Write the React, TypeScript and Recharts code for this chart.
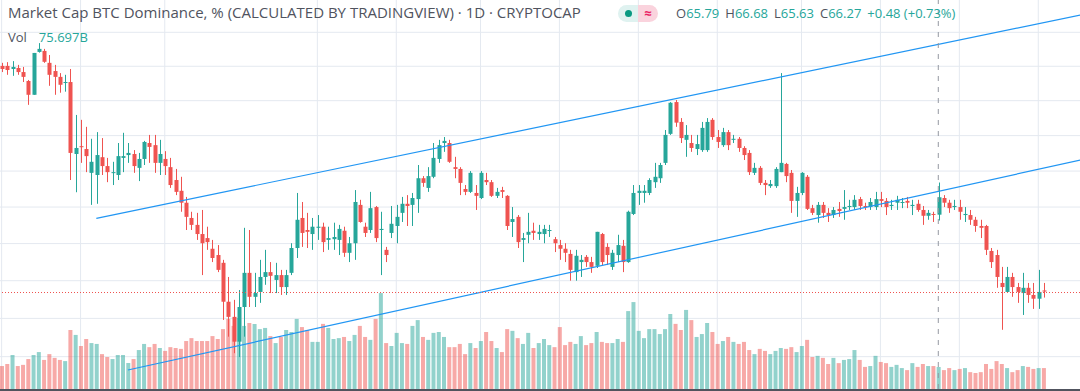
import React from "react";
import { ComposedChart, Bar, XAxis, YAxis, CartesianGrid, ReferenceLine, Cell } from "recharts";

// Daily BTC dominance candles (%)
const opens = [
  70.01, 70.01, 69.92, 69.95, 69.83, 69.57, 69.17, 70.42, 70.45, 70.10,
  69.86, 69.69, 69.52, 69.54, 67.48, 67.70, 67.62, 66.95, 66.89, 67.39,
  67.14, 66.95, 66.89, 67.37, 67.45, 67.48, 67.09, 67.34, 67.79, 67.73,
  67.23, 67.34, 67.11, 66.75, 66.45, 66.12, 65.70, 65.51, 65.26, 65.15,
  64.86, 64.69, 64.48, 63.44, 63.04, 62.39, 63.30, 64.21, 63.57, 63.70,
  64.10, 64.23, 64.02, 64.15, 63.83, 64.21, 64.88, 65.70, 65.37, 65.26,
  65.43, 65.46, 65.10, 65.12, 65.10, 65.35, 64.75, 65.01, 66.06, 65.46,
  65.37, 66.00, 65.37, 64.83, 65.29, 65.48, 65.84, 66.09, 66.06, 66.22,
  66.80, 66.53, 66.84, 67.34, 67.79, 67.79, 67.11, 67.06, 66.50, 66.42,
  66.39, 66.25, 66.75, 66.69, 66.31, 66.47, 66.31, 65.59, 65.73, 65.10,
  65.24, 65.35, 65.26, 65.26, 65.35, 65.12, 64.96, 64.86, 64.72, 64.23,
  64.50, 64.64, 64.50, 64.40, 65.26, 64.91, 64.37, 64.69, 64.94, 64.50,
  65.81, 66.39, 66.39, 66.39, 66.69, 66.80, 67.23, 68.05, 68.96, 68.39,
  67.88, 67.79, 67.62, 67.59, 67.59, 68.45, 67.96, 67.73, 68.10, 67.88,
  67.91, 67.65, 67.51, 66.95, 67.09, 66.67, 66.58, 66.58, 66.97, 67.20,
  66.95, 66.17, 66.39, 66.84, 65.97, 65.78, 66.06, 65.84, 65.78, 65.95,
  65.95, 66.00, 66.00, 66.22, 66.03, 66.00, 66.00, 66.22, 66.17, 66.03,
  66.12, 66.12, 66.17, 66.03, 66.09, 65.92, 65.76, 65.81, 65.79, 66.25,
  66.12, 66.00, 66.00, 65.78, 65.78, 65.65, 65.48, 65.48, 64.80, 64.69,
  63.94, 63.70, 64.10, 63.83, 63.67, 63.81, 63.62, 63.52, 63.74,
];
const highs = [
  70.10, 70.12, 70.15, 70.04, 69.98, 69.60, 70.39, 70.68, 70.51, 70.33,
  70.04, 69.80, 69.75, 69.92, 68.59, 68.45, 68.25, 67.91, 68.10, 67.93,
  67.37, 67.26, 67.79, 68.08, 67.79, 67.59, 67.51, 67.85, 68.02, 68.02,
  67.88, 67.56, 67.37, 67.06, 66.84, 66.28, 65.87, 65.84, 65.92, 65.46,
  65.10, 64.96, 64.56, 64.10, 63.49, 63.75, 65.43, 65.37, 64.21, 64.56,
  64.83, 64.50, 64.48, 64.29, 64.29, 65.01, 66.39, 66.14, 65.84, 65.70,
  65.78, 65.57, 65.46, 65.57, 65.51, 65.46, 65.18, 66.47, 66.20, 65.57,
  66.42, 66.03, 65.87, 64.91, 66.03, 66.06, 66.28, 66.33, 66.39, 67.17,
  66.86, 67.11, 67.79, 67.88, 67.96, 67.88, 67.40, 67.11, 66.61, 67.00,
  66.61, 67.00, 66.95, 66.75, 66.53, 66.56, 66.33, 66.00, 65.78, 65.29,
  65.84, 65.57, 65.51, 65.51, 65.51, 65.18, 65.10, 65.01, 64.83, 64.83,
  64.69, 64.69, 64.64, 65.32, 65.29, 65.01, 64.83, 65.24, 65.10, 65.90,
  66.61, 66.61, 66.61, 66.80, 67.23, 67.23, 68.16, 68.96, 69.02, 68.50,
  68.30, 68.02, 68.02, 68.39, 68.50, 68.50, 68.16, 68.22, 68.16, 68.02,
  67.96, 67.70, 67.59, 67.23, 67.14, 66.75, 66.75, 67.11, 69.80, 67.23,
  67.03, 66.56, 66.97, 66.89, 66.06, 66.14, 66.14, 65.97, 66.00, 66.14,
  66.47, 66.20, 66.33, 66.28, 66.12, 66.25, 66.42, 66.42, 66.25, 66.20,
  66.31, 66.25, 66.28, 66.20, 66.20, 66.03, 65.92, 65.87, 66.68, 66.33,
  66.20, 66.20, 66.20, 66.00, 65.92, 65.73, 65.65, 65.51, 64.88, 64.83,
  64.37, 64.37, 64.21, 63.94, 64.21, 63.94, 63.94, 64.29, 63.94,
];
const lows = [
  69.83, 69.75, 69.72, 69.75, 69.54, 68.88, 69.17, 70.40, 70.10, 69.43,
  69.17, 69.23, 69.26, 66.75, 66.41, 67.23, 66.97, 66.06, 66.09, 66.89,
  66.69, 66.61, 66.75, 66.97, 67.23, 66.95, 66.72, 67.17, 67.23, 66.95,
  66.89, 66.89, 66.53, 66.33, 65.87, 65.37, 65.37, 65.10, 64.15, 64.83,
  64.50, 64.23, 62.96, 62.52, 62.09, 61.99, 62.52, 63.30, 63.30, 63.41,
  63.89, 63.67, 63.67, 63.62, 63.62, 64.15, 64.61, 64.91, 64.88, 64.83,
  65.10, 64.77, 64.83, 64.83, 64.69, 64.64, 64.50, 64.56, 65.57, 65.18,
  65.29, 65.04, 64.15, 64.50, 65.15, 65.01, 65.59, 65.48, 65.48, 65.84,
  66.56, 66.42, 66.80, 67.23, 67.54, 67.23, 66.80, 66.33, 66.33, 66.39,
  65.92, 66.22, 66.61, 66.28, 66.25, 66.25, 65.37, 65.18, 64.88, 64.50,
  65.01, 65.10, 65.10, 65.01, 65.18, 64.77, 64.56, 64.50, 64.00, 64.00,
  64.10, 64.37, 64.21, 64.34, 64.42, 64.42, 64.29, 64.50, 64.23, 64.48,
  65.78, 66.06, 66.12, 66.33, 66.53, 66.67, 67.17, 68.02, 68.25, 67.79,
  67.40, 67.54, 67.45, 67.54, 67.54, 67.88, 67.65, 67.68, 67.59, 67.79,
  67.54, 67.31, 66.89, 66.89, 66.61, 66.33, 66.53, 66.53, 66.97, 66.69,
  65.84, 65.73, 66.33, 65.92, 65.78, 65.57, 65.70, 65.59, 65.70, 65.73,
  65.65, 65.92, 65.92, 65.92, 65.92, 65.92, 65.92, 66.00, 65.78, 65.92,
  65.92, 65.97, 65.97, 65.78, 65.87, 65.51, 65.65, 65.59, 65.63, 66.00,
  65.84, 65.92, 65.65, 65.59, 65.51, 65.32, 65.15, 64.69, 64.34, 63.81,
  62.70, 63.70, 63.57, 63.41, 63.09, 63.41, 63.25, 63.25, 63.55,
];
const closes = [
  69.92, 69.89, 69.98, 69.83, 69.69, 69.17, 70.39, 70.51, 70.13, 69.75,
  69.69, 69.46, 69.54, 67.51, 67.65, 67.68, 67.42, 67.26, 67.45, 67.14,
  66.97, 66.97, 67.42, 67.42, 67.51, 67.14, 67.34, 67.82, 67.68, 67.23,
  67.48, 67.14, 66.61, 66.42, 66.12, 65.73, 65.51, 65.26, 65.01, 65.04,
  64.61, 64.29, 63.44, 63.04, 62.39, 63.30, 64.21, 63.57, 63.67, 64.10,
  64.23, 64.13, 64.15, 63.83, 64.15, 64.88, 65.65, 65.29, 65.32, 65.46,
  65.46, 65.04, 65.15, 65.18, 65.40, 64.75, 65.01, 66.14, 65.59, 65.29,
  65.97, 65.15, 65.40, 64.69, 65.54, 65.73, 66.09, 66.03, 66.25, 66.80,
  66.67, 66.86, 67.37, 67.73, 67.85, 67.26, 67.06, 66.67, 66.42, 66.95,
  66.31, 66.95, 66.69, 66.31, 66.42, 66.42, 65.48, 65.67, 65.04, 65.15,
  65.32, 65.29, 65.32, 65.40, 65.37, 65.01, 64.86, 64.75, 64.29, 64.67,
  64.56, 64.50, 64.37, 65.32, 64.50, 64.69, 64.75, 64.96, 64.50, 65.87,
  66.39, 66.45, 66.45, 66.75, 66.84, 67.17, 68.02, 68.94, 68.37, 67.93,
  68.02, 67.65, 67.76, 68.22, 68.39, 67.96, 67.82, 68.10, 67.73, 67.91,
  67.65, 67.45, 66.97, 67.09, 66.67, 66.61, 66.64, 67.06, 67.23, 66.86,
  66.17, 66.39, 66.95, 65.95, 65.84, 66.06, 65.84, 65.78, 65.92, 65.89,
  66.00, 66.03, 66.20, 66.03, 66.00, 66.14, 66.22, 66.17, 66.00, 66.06,
  66.20, 66.14, 66.12, 66.06, 65.92, 65.76, 65.84, 65.79, 66.27, 66.12,
  65.97, 66.03, 65.87, 65.81, 65.65, 65.48, 65.43, 64.83, 64.50, 64.10,
  63.83, 64.10, 63.83, 63.70, 63.81, 63.62, 63.52, 63.70, 63.71,
];
// Daily volume, billions
const volumes = [
  79, 86, 117, 79, 83, 103, 117, 127, 100, 120,
  107, 100, 96, 203, 186, 148, 172, 158, 155, 120,
  110, 103, 117, 117, 89, 103, 134, 155, 144, 155,
  141, 131, 144, 141, 138, 165, 175, 165, 165, 165,
  182, 172, 206, 241, 217, 244, 217, 227, 224, 206,
  210, 182, 158, 179, 203, 196, 241, 213, 203, 162,
  162, 224, 210, 172, 175, 179, 165, 186, 217, 179,
  169, 241, 330, 158, 148, 193, 158, 155, 217, 237,
  179, 169, 193, 196, 179, 144, 144, 155, 120, 158,
  141, 165, 196, 165, 141, 127, 206, 200, 175, 155,
  193, 141, 158, 172, 151, 144, 213, 151, 162, 155,
  182, 151, 158, 196, 162, 158, 158, 172, 162, 268,
  299, 200, 175, 206, 206, 189, 206, 258, 224, 203,
  272, 237, 179, 189, 227, 196, 155, 165, 179, 162,
  155, 162, 134, 120, 138, 131, 120, 131, 141, 138,
  144, 127, 148, 169, 110, 114, 107, 86, 107, 89,
  100, 103, 134, 100, 76, 79, 114, 93, 89, 76,
  83, 72, 65, 89, 76, 86, 79, 79, 75.697, 65,
  72, 65, 69, 72, 58, 55, 58, 86, 69, 96,
  86, 72, 58, 65, 79, 76, 69, 72, 72,
];

const EMPTY_FUTURE_SLOTS = 7;
const priceTicks = [62, 63, 64, 65, 66, 67, 68, 69, 70, 71];
const priceDomain = [61.168, 71.965];
const volumeDomain = [0, 1338];
const timeTicks = [0, 15, 31, 60, 75, 91, 106, 121, 136, 152, 167, 182, 197];
const upperChannel = [{ x: 18, y: 65.69 }, { x: 205, y: 71.515 }];
const lowerChannel = [{ x: 24, y: 61.655 }, { x: 205, y: 67.31 }];
const crosshairIndex = 178;
const titleText = "Market Cap BTC Dominance, % (CALCULATED BY TRADINGVIEW) · 1D · CRYPTOCAP";
const legendLabels = ["O", "H", "L", "C"];
const legendValues = ["65.79", "66.68", "65.63", "66.27"];
const legendChange = "+0.48 (+0.73%)";
const legendVolume = "75.697B";

const UP = "#26a69a";
const DOWN = "#ef5350";
const UP_VOL = "rgba(38,166,154,0.5)";
const DOWN_VOL = "rgba(239,83,80,0.5)";
const GRID = "#e4e9f0";
const TEXT = "#50535e";

const data = Array.from({ length: opens.length + EMPTY_FUTURE_SLOTS }, (_, i) =>
  i < opens.length
    ? {
        i,
        open: opens[i],
        high: highs[i],
        low: lows[i],
        close: closes[i],
        range: [lows[i], highs[i]],
        volume: volumes[i],
      }
    : { i }
);

function Candle(props: any) {
  const { x, y, width, height, payload } = props;
  if (!payload || payload.open == null) return null;
  const { open, close, high, low } = payload;
  const color = close >= open ? UP : DOWN;
  const lh = Math.log(high);
  const ll = Math.log(low);
  const span = lh - ll || 1;
  const toY = (p: number) => y + ((lh - Math.log(p)) / span) * height;
  const yo = toY(open);
  const yc = toY(close);
  const top = Math.min(yo, yc);
  const bh = Math.max(1, Math.abs(yo - yc));
  const cx = Math.round(x + width / 2) + 0.5;
  return (
    <g>
      <line x1={cx} x2={cx} y1={y} y2={y + Math.max(height, 1)} stroke={color} strokeWidth={1} />
      <rect x={cx - 2} y={top} width={4} height={bh} fill={color} />
    </g>
  );
}

// Dotted last-price line, drawn at the library-computed y position
function PriceLine(props: any) {
  const { x1, x2, y1 } = props;
  const yy = Math.round(y1) + 0.5;
  return <line x1={x1} x2={x2} y1={yy} y2={yy} stroke="#ef5350" strokeWidth={1} strokeDasharray="1 2" />;
}

const NoTick = () => <g />;

export default function App() {
  return (
    <div
      style={{
        position: "absolute",
        left: 0,
        top: 0,
        width: 1080,
        height: 391,
        overflow: "hidden",
        background: "#ffffff",
        fontFamily: "'Open Sans', 'Noto Sans', sans-serif",
      }}
    >
      <div style={{ position: "absolute", left: -1, top: 0 }}>
        <ComposedChart width={1084} height={389} data={data} margin={{ top: 0, right: 0, bottom: 0, left: 0 }}>
          <CartesianGrid stroke={GRID} strokeWidth={1} horizontalValues={priceTicks} verticalValues={timeTicks} />
          <XAxis dataKey="i" type="category" ticks={timeTicks} interval={0} height={0} tick={NoTick} axisLine={false} tickLine={false} />
          <XAxis xAxisId="vol" dataKey="i" type="category" hide />
          <YAxis scale="log" domain={priceDomain} ticks={priceTicks} allowDataOverflow width={0} tick={NoTick} axisLine={false} tickLine={false} />
          <YAxis yAxisId="vol" domain={volumeDomain} hide allowDataOverflow />
          <Bar xAxisId="vol" yAxisId="vol" dataKey="volume" barSize={4} isAnimationActive={false}>
            {data.map((d: any, i) => (
              <Cell key={i} fill={d.close >= d.open ? UP_VOL : DOWN_VOL} />
            ))}
          </Bar>
          <Bar dataKey="range" barSize={4} shape={<Candle />} isAnimationActive={false} />
          <ReferenceLine segment={upperChannel} stroke="#2196f3" strokeWidth={1.2} ifOverflow="visible" />
          <ReferenceLine segment={lowerChannel} stroke="#2196f3" strokeWidth={1.2} ifOverflow="visible" />
          <ReferenceLine y={closes[closes.length - 1]} stroke="#ef5350" ifOverflow="visible" shape={PriceLine} />
          <ReferenceLine x={crosshairIndex} stroke="#9598a1" strokeWidth={1} strokeDasharray="5 6" ifOverflow="visible" />
        </ComposedChart>
      </div>
      <div style={{ position: "absolute", left: 0, top: 389, width: 1080, height: 2, background: "#50535e" }} />
      <div
        style={{
          position: "absolute",
          left: 8,
          top: 1,
          fontSize: 15,
          lineHeight: "22px",
          color: TEXT,
          whiteSpace: "nowrap",
        }}
      >
        {titleText}
      </div>
      <div
        style={{
          position: "absolute",
          left: 618,
          top: 5,
          width: 40,
          height: 17,
          borderRadius: 9,
          overflow: "hidden",
          display: "flex",
        }}
      >
        <div style={{ width: 20, height: 17, background: "#dff2f0", display: "flex", alignItems: "center", justifyContent: "center" }}>
          <div style={{ width: 7, height: 7, borderRadius: 4, background: "#089981" }} />
        </div>
        <div style={{ width: 20, height: 17, background: "#fad3dd", color: "#e91e63", fontSize: 13, lineHeight: "17px", textAlign: "center", fontWeight: 700 }}>
          ≈
        </div>
      </div>
      <div
        style={{
          position: "absolute",
          left: 676,
          top: 3,
          fontSize: 13,
          lineHeight: "20px",
          whiteSpace: "nowrap",
          display: "flex",
          gap: 6,
        }}
      >
        {legendLabels.map((l, k) => (
          <span key={l}>
            <span style={{ color: TEXT }}>{l}</span>
            <span style={{ color: UP }}>{legendValues[k]}</span>
          </span>
        ))}
        <span style={{ color: UP }}>{legendChange}</span>
      </div>
      <div
        style={{
          position: "absolute",
          left: 8,
          top: 28,
          fontSize: 13,
          lineHeight: "18px",
          whiteSpace: "nowrap",
        }}
      >
        <span style={{ color: TEXT }}>Vol</span>
        <span style={{ color: UP, marginLeft: 12 }}>{legendVolume}</span>
      </div>
    </div>
  );
}
